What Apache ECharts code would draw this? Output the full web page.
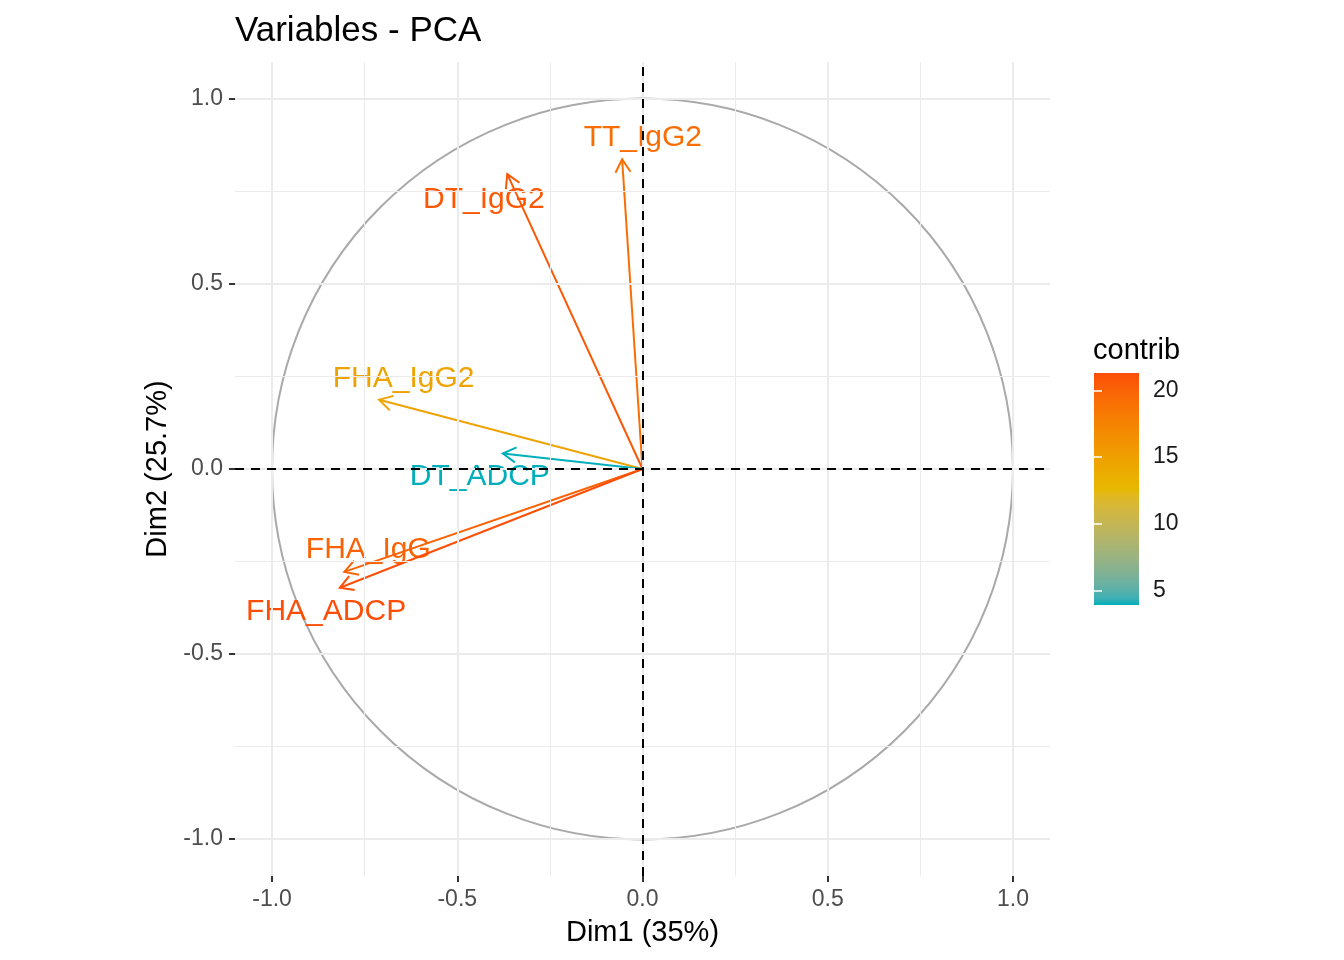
<!DOCTYPE html>
<html>
<head>
<meta charset="utf-8">
<script src="https://cdn.jsdelivr.net/npm/echarts@6/dist/echarts.min.js"></script>
<style>html,body{margin:0;padding:0;background:#fff}#main{width:1344px;height:960px}</style>
</head>
<body>
<div id="main"></div>
<script>
// variables, coordinates on Dim1/Dim2 and contribution
var varNames = ['TT_IgG2', 'DT_IgG2', 'FHA_IgG2', 'DT_ADCP', 'FHA_IgG', 'FHA_ADCP'];
var dim1 = [-0.055, -0.365, -0.711, -0.377, -0.805, -0.817];
var dim2 = [0.837, 0.797, 0.187, 0.042, -0.278, -0.321];
var contrib = [19.2, 20.7, 14.7, 3.93, 20.0, 21.3];
// where the (repelled) labels ended up
var labelX = [0.001, -0.428, -0.645, -0.439, -0.740, -0.854];
var labelY = [0.896, 0.728, 0.244, -0.022, -0.218, -0.386];
// ticks
var axisTicks = [-1, -0.5, 0, 0.5, 1];
var minorTicks = [-0.75, -0.25, 0.25, 0.75];
var legendTicks = [5, 10, 15, 20];
var gradientCols = ['#00AFBB', '#E7B800', '#FC4E07'];

var FONT = '"Liberation Sans", Arial, Helvetica, sans-serif';
var cmin = Math.min.apply(null, contrib);
var cmax = Math.max.apply(null, contrib);

//颜色在Lab空间插值 (same as ggplot gradientn)
function toLin(c) { c /= 255; return c <= 0.04045 ? c / 12.92 : Math.pow((c + 0.055) / 1.055, 2.4); }
function toSrgb(c) {
    var v = c <= 0.0031308 ? 12.92 * c : 1.055 * Math.pow(c, 1 / 2.4) - 0.055;
    return Math.round(Math.max(0, Math.min(1, v)) * 255);
}
function hexToLab(hex) {
    var r = toLin(parseInt(hex.substr(1, 2), 16));
    var g = toLin(parseInt(hex.substr(3, 2), 16));
    var b = toLin(parseInt(hex.substr(5, 2), 16));
    var x = (0.4124 * r + 0.3576 * g + 0.1805 * b) / 0.95047;
    var y = 0.2126 * r + 0.7152 * g + 0.0722 * b;
    var z = (0.0193 * r + 0.1192 * g + 0.9505 * b) / 1.08883;
    var f = function (t) { return t > 0.008856 ? Math.cbrt(t) : 7.787 * t + 16 / 116; };
    var fx = f(x), fy = f(y), fz = f(z);
    return [116 * fy - 16, 500 * (fx - fy), 200 * (fy - fz)];
}
function labToHex(lab) {
    var fy = (lab[0] + 16) / 116, fx = fy + lab[1] / 500, fz = fy - lab[2] / 200;
    var inv = function (t) { return t * t * t > 0.008856 ? t * t * t : (t - 16 / 116) / 7.787; };
    var x = inv(fx) * 0.95047, y = inv(fy), z = inv(fz) * 1.08883;
    var r = 3.2406 * x - 1.5372 * y - 0.4986 * z;
    var g = -0.9689 * x + 1.8758 * y + 0.0415 * z;
    var b = 0.0557 * x - 0.2040 * y + 1.0570 * z;
    return 'rgb(' + toSrgb(r) + ',' + toSrgb(g) + ',' + toSrgb(b) + ')';
}
function labRamp(cols, n) {
    var labs = cols.map(hexToLab), out = [];
    for (var k = 0; k < n; k++) {
        var t = k / (n - 1) * (labs.length - 1);
        var j = Math.min(Math.floor(t), labs.length - 2), u = t - j;
        out.push(labToHex([0, 1, 2].map(function (d) { return labs[j][d] + (labs[j + 1][d] - labs[j][d]) * u; })));
    }
    return out;
}
var ramp = labRamp(gradientCols, 41);

var myChart = echarts.init(document.getElementById('main'));

function gridLines(vals) {
    var out = [];
    vals.forEach(function (v) {
        out.push({xAxis: v});
        out.push({yAxis: v});
    });
    return out;
}

var barGradient = {
    type: 'linear', x: 0, y: 1, x2: 0, y2: 0,
    colorStops: ramp.map(function (c, k) { return {offset: k / (ramp.length - 1), color: c}; })
};

var mainTick = {show: true, length: 6, customValues: axisTicks, lineStyle: {color: '#333', width: 2}};
var hiddenLine = {show: true, onZero: false, lineStyle: {opacity: 0}};

var option = {
    animation: false,
    backgroundColor: '#fff',
    textStyle: {fontFamily: FONT},
    title: [{
        text: 'Variables - PCA',
        left: 235, top: 14, padding: 0,
        textStyle: {fontSize: 35, fontWeight: 'normal', color: '#000', fontFamily: FONT}
    }, {
        text: 'contrib',
        left: 1093, top: 336, padding: 0,
        textStyle: {fontSize: 29, fontWeight: 'normal', color: '#000', fontFamily: FONT}
    }],
    grid: [
        {left: 235, top: 62, width: 815, height: 814},
        {left: 1094, top: 373, width: 45, height: 232, show: true, backgroundColor: barGradient, borderWidth: 0}
    ],
    xAxis: [{
        gridIndex: 0, type: 'value', min: -1.1, max: 1.1,
        name: 'Dim1 (35%)', nameLocation: 'middle', nameGap: 42,
        nameTextStyle: {fontSize: 29, color: '#000', fontFamily: FONT},
        axisLine: hiddenLine,
        axisTick: mainTick,
        axisLabel: {
            customValues: axisTicks, fontSize: 23, color: '#4D4D4D', margin: 12,
            formatter: function (v) { return v.toFixed(1); }
        },
        splitLine: {show: false}
    }, {
        gridIndex: 1, type: 'value', min: 0, max: 1, show: false
    }],
    yAxis: [{
        gridIndex: 0, type: 'value', min: -1.1, max: 1.1,
        name: 'Dim2 (25.7%)', nameLocation: 'middle', nameGap: 61,
        nameTextStyle: {fontSize: 29, color: '#000', fontFamily: FONT},
        axisLine: hiddenLine,
        axisTick: mainTick,
        axisLabel: {
            customValues: axisTicks, fontSize: 23, color: '#4D4D4D', margin: 12,
            formatter: function (v) { return v.toFixed(1); }
        },
        splitLine: {show: false}
    }, {
        gridIndex: 1, type: 'value', min: cmin, max: cmax, position: 'right',
        axisLine: {show: false},
        axisTick: {show: true, inside: true, length: 8, customValues: legendTicks, lineStyle: {color: '#fff', width: 1.5}},
        axisLabel: {customValues: legendTicks, fontSize: 23, color: '#1A1A1A', margin: 14},
        splitLine: {show: false}
    }, {
        gridIndex: 1, type: 'value', min: cmin, max: cmax, position: 'left',
        axisLine: {show: false},
        axisTick: {show: true, inside: true, length: 8, customValues: legendTicks, lineStyle: {color: '#fff', width: 1.5}},
        axisLabel: {show: false},
        splitLine: {show: false}
    }],
    visualMap: {
        type: 'continuous', show: false, seriesIndex: 4, dimension: 2,
        min: cmin, max: cmax, inRange: {color: ramp}
    },
    series: [
        //主网格线
        {
            type: 'line', data: [], z: 1, silent: true,
            markLine: {
                silent: true, symbol: 'none', label: {show: false},
                lineStyle: {color: '#EBEBEB', width: 2, type: 'solid'},
                data: gridLines(axisTicks)
            }
        },
        //次网格线
        {
            type: 'line', data: [], z: 1, silent: true,
            markLine: {
                silent: true, symbol: 'none', label: {show: false},
                lineStyle: {color: '#EBEBEB', width: 1, type: 'solid'},
                data: gridLines(minorTicks)
            }
        },
        //相关圆
        {
            type: 'custom', z: 2, silent: true,
            data: [[0, 0]],
            encode: {x: 0, y: 1},
            renderItem: function (params, api) {
                var c = api.coord([0, 0]);
                var e = api.coord([1, 0]);
                return {
                    type: 'circle',
                    shape: {cx: c[0], cy: c[1], r: e[0] - c[0]},
                    style: {fill: 'none', stroke: '#A9A9A9', lineWidth: 2}
                };
            }
        },
        //零线
        {
            type: 'line', data: [], z: 3, silent: true,
            markLine: {
                silent: true, symbol: 'none', label: {show: false},
                lineStyle: {color: '#000', width: 2, type: [9, 7]},
                data: [{xAxis: 0}, {yAxis: 0}]
            }
        },
        //变量箭头
        {
            type: 'custom', z: 4,
            data: dim1.map(function (x, i) { return [x, dim2[i], contrib[i]]; }),
            encode: {x: 0, y: 1},
            renderItem: function (params, api) {
                var i = params.dataIndex;
                var o = api.coord([0, 0]);
                var p = api.coord([api.value(0), api.value(1)]);
                var col = api.visual('color');
                var a = Math.atan2(o[1] - p[1], o[0] - p[0]);
                var L = 15, h = Math.PI / 6;
                var w1 = [p[0] + L * Math.cos(a + h), p[1] + L * Math.sin(a + h)];
                var w2 = [p[0] + L * Math.cos(a - h), p[1] + L * Math.sin(a - h)];
                var lp = api.coord([labelX[i], labelY[i]]);
                return {
                    type: 'group',
                    children: [{
                        type: 'line',
                        shape: {x1: o[0], y1: o[1], x2: p[0], y2: p[1]},
                        style: {stroke: col, lineWidth: 2}
                    }, {
                        type: 'polyline',
                        shape: {points: [w1, p, w2]},
                        style: {stroke: col, fill: null, lineWidth: 2}
                    }, {
                        type: 'text',
                        x: lp[0], y: lp[1],
                        style: {
                            text: varNames[i], fill: col,
                            font: '30px ' + FONT,
                            align: 'center', verticalAlign: 'middle'
                        }
                    }]
                };
            }
        }
    ]
};
myChart.setOption(option);
</script>
</body>
</html>
